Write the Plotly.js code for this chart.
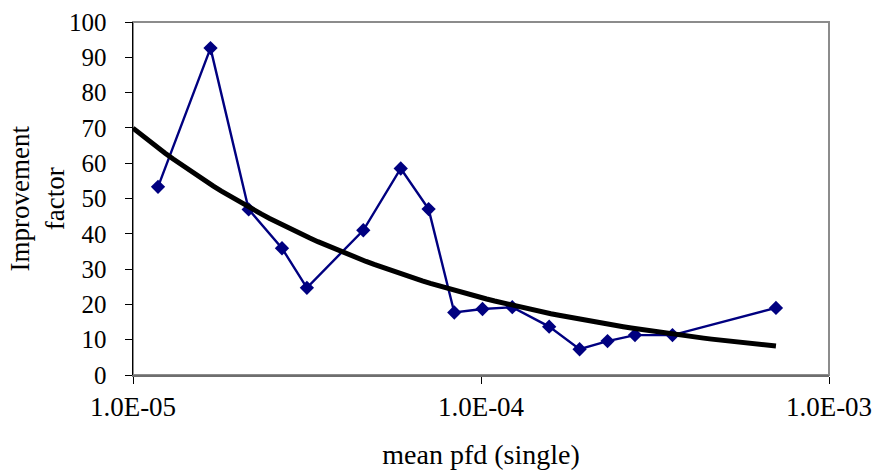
<!DOCTYPE html>
<html>
<head>
<meta charset="utf-8">
<script src="https://cdn.plot.ly/plotly-3.0.1.min.js"></script>
<style>html,body{margin:0;padding:0;background:#fff;}#chart{width:874px;height:470px;}</style>
</head>
<body>
<div id="chart"></div>
<script>
// Data
const meanPfd = [1.18e-5, 1.67e-5, 2.15e-5, 2.68e-5, 3.16e-5, 4.59e-5, 5.88e-5, 7.07e-5, 8.38e-5,
                 1.01e-4, 1.23e-4, 1.57e-4, 1.92e-4, 2.31e-4, 2.77e-4, 3.55e-4, 7.04e-4];
const improvement = [53.3, 92.6, 46.9, 35.9, 24.7, 41.0, 58.5, 47.0, 17.7,
                     18.7, 19.2, 13.7, 7.3, 9.6, 11.3, 11.3, 19.0];
const xTickVals = [1e-5, 1e-4, 1e-3];
const xTickText = ["1.0E-05", "1.0E-04", "1.0E-03"];
const yTickVals = [0, 10, 20, 30, 40, 50, 60, 70, 80, 90, 100];

// Power trendline (least squares in log-log space), as a spreadsheet would fit it
const lx = meanPfd.map(Math.log), ly = improvement.map(Math.log);
const n = lx.length;
const mx = lx.reduce((a, b) => a + b, 0) / n, my = ly.reduce((a, b) => a + b, 0) / n;
let sxy = 0, sxx = 0;
for (let i = 0; i < n; i++) { sxy += (lx[i] - mx) * (ly[i] - my); sxx += (lx[i] - mx) ** 2; }
const bPow = sxy / sxx, aPow = Math.exp(my - bPow * mx);
const tStart = Math.log10(xTickVals[0]), tEnd = Math.log10(meanPfd[n - 1]);
const trendX = [], trendY = [];
for (let k = 0; k <= 80; k++) {
  const xv = Math.pow(10, tStart + (tEnd - tStart) * k / 80);
  trendX.push(xv); trendY.push(aPow * Math.pow(xv, bPow));
}

const serif = "Liberation Serif";
const traces = [
  { x: meanPfd, y: improvement, type: "scatter", mode: "lines+markers",
    line: { color: "#000080", width: 2.4 },
    marker: { symbol: "diamond", size: 11, color: "#000080" },
    hoverinfo: "x+y", showlegend: false },
  { x: trendX, y: trendY, type: "scatter", mode: "lines",
    line: { color: "#000000", width: 5 }, hoverinfo: "skip", showlegend: false }
];

const layout = {
  width: 874, height: 470,
  margin: { l: 133, r: 45, t: 22, b: 95 },
  paper_bgcolor: "#ffffff", plot_bgcolor: "#ffffff",
  showlegend: false,
  font: { family: serif, color: "#000000" },
  xaxis: {
    type: "log", range: [-5, -3],
    tickmode: "array", tickvals: xTickVals, ticktext: xTickText,
    ticks: "outside", ticklen: 7, tickcolor: "#000000", tickwidth: 1,
    showgrid: false, zeroline: false,
    showline: true, linecolor: "#6e6e6e", linewidth: 2, mirror: false,
    tickfont: { family: serif, size: 27, color: "#000000" },
    title: { text: "mean pfd (single)", font: { family: serif, size: 28, color: "#000000" }, standoff: 31 }
  },
  yaxis: {
    range: [0, 100],
    tickmode: "array", tickvals: yTickVals,
    ticks: "outside", ticklen: 7, tickcolor: "#000000", tickwidth: 1,
    ticklabelstandoff: 13,
    showgrid: false, zeroline: false,
    showline: true, linecolor: "#000000", linewidth: 1.5,
    tickfont: { family: serif, size: 25, color: "#000000" }
  },
  annotations: [
    { text: "Improvement<br>factor", xref: "paper", yref: "paper",
      x: -96 / 696, y: 0.5, xanchor: "center", yanchor: "middle",
      textangle: -90, showarrow: false,
      font: { family: serif, size: 27, color: "#000000" } }
  ],
  shapes: [
    { type: "rect", xref: "paper", yref: "paper", x0: 0, x1: 1, y0: 0, y1: 1,
      line: { color: "#8c8c8c", width: 2 }, layer: "below" }
  ]
};

Plotly.newPlot("chart", traces, layout, { displayModeBar: false, staticPlot: true });
</script>
</body>
</html>
